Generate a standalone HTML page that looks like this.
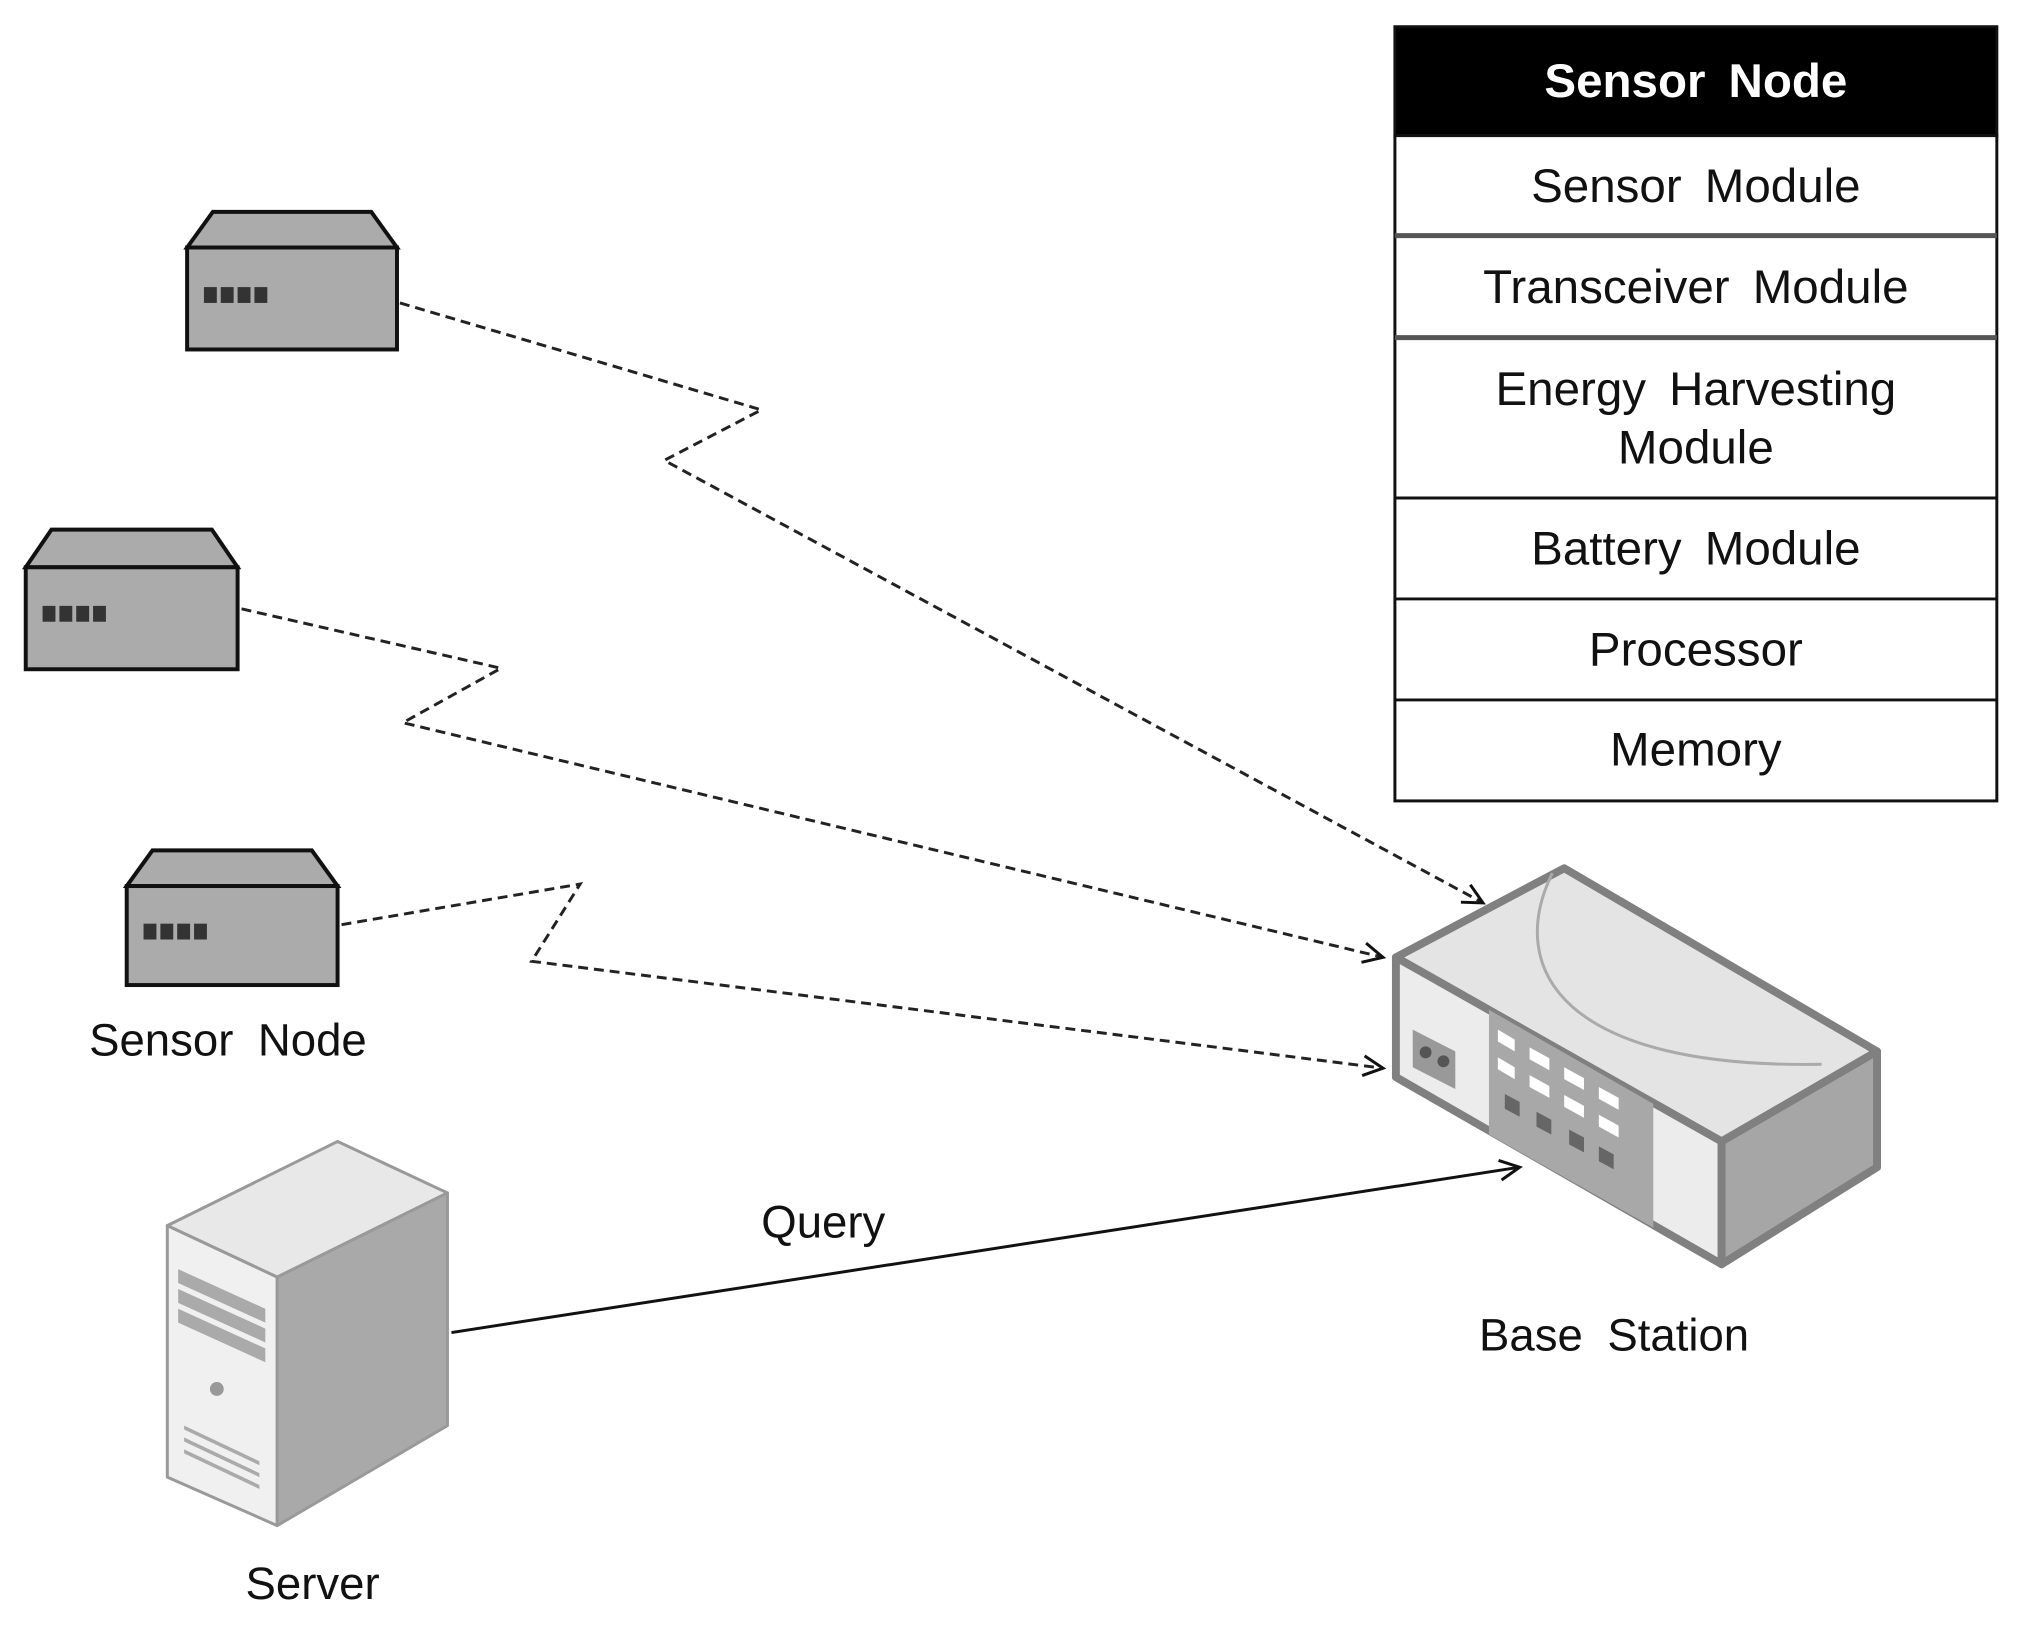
<!DOCTYPE html>
<html><head><meta charset="utf-8"><style>
html,body{margin:0;padding:0;background:#fff}
svg{display:block}
text{font-family:"Liberation Sans",sans-serif}
</style></head><body>
<svg width="2022" height="1626" viewBox="0 0 2022 1626" xmlns="http://www.w3.org/2000/svg">
<defs>
<marker id="ah" markerWidth="30" markerHeight="30" refX="22" refY="12" orient="auto" markerUnits="userSpaceOnUse">
<path d="M2,2 L22,12 L2,22" fill="none" stroke="#111" stroke-width="3"/>
</marker>
</defs>
<g transform="scale(0.99)">
<!-- table -->
<g stroke="#111" stroke-width="3">
<rect x="1409" y="27" width="608" height="110" fill="#000"/>
<rect x="1409" y="137" width="608" height="672" fill="#fff"/>
<line x1="1409" y1="238" x2="2017" y2="238" stroke="#555" stroke-width="5"/>
<line x1="1409" y1="341" x2="2017" y2="341" stroke="#555" stroke-width="5"/>
<line x1="1409" y1="503" x2="2017" y2="503"/>
<line x1="1409" y1="605" x2="2017" y2="605"/>
<line x1="1409" y1="707" x2="2017" y2="707"/>
</g>
<g font-size="48" text-anchor="middle" fill="#111" word-spacing="10">
<text x="1713" y="98" fill="#fff" font-weight="bold">Sensor Node</text>
<text x="1713" y="204">Sensor Module</text>
<text x="1713" y="306">Transceiver Module</text>
<text x="1713" y="409">Energy Harvesting</text>
<text x="1713" y="468">Module</text>
<text x="1713" y="570">Battery Module</text>
<text x="1713" y="672">Processor</text>
<text x="1713" y="773">Memory</text>
</g>
<!-- sensor nodes -->
<g stroke="#111" stroke-width="4" fill="#ababab">
<path d="M189,250 L215,214 L375,214 L401,250 Z"/><rect x="189" y="250" width="212" height="103"/>
<path d="M26,573 L52,535 L214,535 L240,573 Z"/><rect x="26" y="573" width="214" height="103"/>
<path d="M128,895 L154,859 L315,859 L341,895 Z"/><rect x="128" y="895" width="213" height="100"/>
</g>
<g fill="#333">
<rect x="206" y="290" width="13" height="16"/><rect x="223" y="290" width="13" height="16"/><rect x="240" y="290" width="13" height="16"/><rect x="257" y="290" width="13" height="16"/>
<rect x="43" y="612" width="13" height="16"/><rect x="60" y="612" width="13" height="16"/><rect x="77" y="612" width="13" height="16"/><rect x="94" y="612" width="13" height="16"/>
<rect x="145" y="933" width="13" height="16"/><rect x="162" y="933" width="13" height="16"/><rect x="179" y="933" width="13" height="16"/><rect x="196" y="933" width="13" height="16"/>
</g>
<!-- dashed links -->
<g fill="none" stroke="#222" stroke-width="3" stroke-dasharray="10,6">
<polyline points="404,306 769,414 671,465 1498,912" marker-end="url(#ah)"/>
<polyline points="244,615 506,675 407,730 1397,967" marker-end="url(#ah)"/>
<polyline points="345,934 586,893 537,971 1397,1079" marker-end="url(#ah)"/>
</g>
<line x1="456" y1="1346" x2="1535" y2="1179" stroke="#111" stroke-width="3" marker-end="url(#ah)"/>
<!-- base station -->
<g stroke="#808080" stroke-width="8" stroke-linejoin="round">
<path d="M1580,877 L1896,1062 L1739,1153 L1410,967 Z" fill="#e4e4e4"/>
<path d="M1410,967 L1739,1153 L1739,1277 L1410,1088 Z" fill="#ececec"/>
<path d="M1739,1153 L1896,1062 L1896,1179 L1739,1277 Z" fill="#a6a6a6"/>
</g>
<path d="M1568,882 C1520,980 1580,1080 1840,1075" fill="none" stroke="#aaa" stroke-width="3"/>
<path d="M1504,1020 L1670,1115 L1670,1240 L1504,1146 Z" fill="#a8a8a8"/>
<path d="M1427,1040 L1470,1062 L1470,1100 L1427,1078 Z" fill="#999"/>
<circle cx="1440" cy="1063" r="6" fill="#555"/><circle cx="1458" cy="1072" r="6" fill="#555"/>
<g fill="#fff">
<path d="M1513,1040 L1530,1050 L1530,1062 L1513,1052Z"/><path d="M1545,1058 L1565,1069 L1565,1081 L1545,1070Z"/>
<path d="M1580,1078 L1600,1089 L1600,1101 L1580,1090Z"/><path d="M1615,1098 L1635,1109 L1635,1121 L1615,1110Z"/>
<path d="M1513,1068 L1530,1078 L1530,1090 L1513,1080Z"/><path d="M1545,1086 L1565,1097 L1565,1109 L1545,1098Z"/>
<path d="M1580,1106 L1600,1117 L1600,1129 L1580,1118Z"/><path d="M1615,1126 L1635,1137 L1635,1149 L1615,1138Z"/>
</g>
<g fill="#666">
<path d="M1520,1105 L1535,1113 L1535,1128 L1520,1120Z"/><path d="M1552,1123 L1567,1131 L1567,1146 L1552,1138Z"/>
<path d="M1585,1141 L1600,1149 L1600,1164 L1585,1156Z"/><path d="M1615,1158 L1630,1166 L1630,1181 L1615,1173Z"/>
</g>
<!-- server -->
<g stroke="#999" stroke-width="3" stroke-linejoin="round">
<path d="M169,1238 L341,1153 L452,1205 L280,1290 Z" fill="#e8e8e8"/>
<path d="M169,1238 L280,1290 L280,1541 L169,1492 Z" fill="#f0f0f0"/>
<path d="M280,1290 L452,1205 L452,1440 L280,1541 Z" fill="#a9a9a9"/>
</g>
<g fill="#aaa">
<path d="M180,1282 L268,1322 L268,1336 L180,1296Z"/><path d="M180,1302 L268,1342 L268,1356 L180,1316Z"/>
<path d="M180,1322 L268,1362 L268,1376 L180,1336Z"/>
<path d="M186,1440 L262,1476 L262,1480 L186,1444Z"/><path d="M186,1452 L262,1488 L262,1492 L186,1456Z"/>
<path d="M186,1464 L262,1500 L262,1504 L186,1468Z"/>
</g>
<circle cx="219" cy="1403" r="7" fill="#999"/>
<!-- labels -->
<g font-size="46" fill="#111" word-spacing="12">
<text x="90" y="1066">Sensor Node</text>
<text x="769" y="1250">Query</text>
<text x="1494" y="1364">Base Station</text>
<text x="248" y="1615">Server</text>
</g>
</g>
</svg>
</body></html>
